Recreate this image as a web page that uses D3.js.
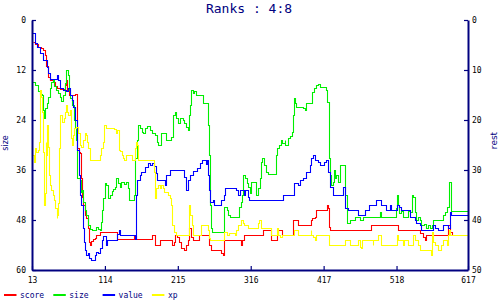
<!DOCTYPE html>
<html>
<head>
<meta charset="utf-8">
<script src="https://cdn.jsdelivr.net/npm/d3@7"></script>
<style>
  html, body { margin: 0; padding: 0; background: #fff; }
  svg { display: block; }
</style>
</head>
<body>
<svg id="chart" width="500" height="300"></svg>
<script>
const title = 'Ranks : 4:8';
const xTicks = [13, 114, 215, 316, 417, 518, 617];
const leftTicks = [0, 12, 24, 36, 48, 60];
const rightTicks = [0, 10, 20, 30, 40, 50];
const seriesNames = ['score', 'size', 'value', 'xp'];
const seriesColors = ['#ff0000', '#00ee00', '#0000ff', '#ffff00'];

// [rank index, position on the left scale]
const scoreData = [
  [14, 5.3], [17, 5.8], [21, 6.5], [25, 6.7], [28, 7.2], [31, 8.4], [32, 11], [35, 13.7], [38, 14.4],
  [42, 14.9], [45, 15.8], [48, 16.3], [52, 16.6], [56, 16.6], [59, 15.6], [60, 14.4], [61, 16.8],
  [64, 18], [70, 18], [73, 17.8], [75, 18], [76, 30.7], [78, 31.7], [79, 31.9], [81, 37.9], [82, 42.5],
  [84, 44.4], [86, 46.8], [88, 47.5], [91, 49.9], [92, 53.3], [93, 54], [95, 53], [97, 52.6], [100, 52.3],
  [102, 51.6], [106, 51.6], [107, 50.8], [129, 50.8], [131, 52.6], [153, 52.6], [154, 51.8], [157, 52.6],
  [178, 52.6], [179, 51.6], [183, 51.6], [184, 54], [190, 54], [191, 52.8], [206, 52.8], [207, 54],
  [210, 53.3], [211, 51.6], [214, 52.1], [217, 53.3], [219, 54], [220, 54.7], [223, 55.2], [226, 54],
  [229, 52.8], [231, 49.9], [233, 52.1], [236, 52.8], [243, 52.8], [244, 51.6], [257, 51.6], [258, 54],
  [261, 55.2], [273, 55.2], [275, 55.9], [278, 56.4], [279, 52.8], [301, 52.8], [303, 54], [304, 52.8],
  [307, 51.6], [332, 51.6], [333, 50.4], [343, 50.4], [344, 52.8], [352, 52.8], [353, 51.6], [354, 50.4],
  [359, 50.4], [360, 51.6], [374, 51.6], [375, 48], [381, 48], [382, 49.2], [398, 49.2], [399, 48],
  [401, 47.5], [405, 47.3], [407, 45.6], [418, 45.6], [421, 44.4], [423, 45.1], [424, 49.7], [426, 50.4],
  [481, 50.4], [482, 49.2], [519, 49.2], [520, 50.4], [548, 50.4], [550, 51.1], [555, 52.1], [557, 52.8],
  [559, 51.6], [588, 51.6], [589, 49.2], [592, 50.9], [595, 51.6], [614, 51.6], [617, 52.8]
];

const sizeData = [
  [13, 14.9], [17, 15.6], [21, 17], [24, 17.8], [27, 18], [28, 21.6], [30, 23.5], [31, 21.1], [34, 19.9],
  [35, 18.5], [38, 16.3], [39, 14.9], [42, 14.4], [43, 15.8], [46, 16.8], [49, 17.5], [52, 18.5],
  [53, 19.4], [56, 18], [59, 15.1], [60, 12], [63, 13.2], [64, 16.8], [66, 18.7], [68, 20.4], [71, 24],
  [73, 25.9], [74, 28.8], [75, 37.9], [78, 37.9], [79, 38.4], [81, 41.3], [82, 40.8], [84, 43.7],
  [86, 45.6], [88, 46.8], [91, 49.2], [93, 50.2], [96, 50.4], [102, 49.7], [104, 50.2], [107, 50.4],
  [109, 48.5], [110, 45.6], [111, 42.7], [114, 39.1], [116, 39.6], [118, 42.7], [121, 42], [124, 41],
  [125, 40.6], [128, 40.1], [129, 37.9], [132, 39.1], [135, 40.1], [136, 38.9], [140, 39.4], [143, 38.9],
  [146, 40.3], [148, 43.2], [153, 43.2], [154, 42], [156, 33.1], [158, 28.8], [160, 25.2], [163, 25.9],
  [166, 26.9], [167, 27.1], [170, 25.9], [173, 25.4], [176, 26.4], [179, 27.1], [184, 27.6], [186, 29.3],
  [188, 30], [190, 30], [192, 27.1], [197, 27.1], [198, 28.8], [204, 28.8], [206, 28.1], [208, 22.8],
  [211, 22.1], [212, 23.5], [215, 24.7], [218, 23.5], [222, 24], [224, 24.7], [226, 25.7], [229, 26.4],
  [230, 22.8], [232, 20.4], [233, 16.8], [236, 17.5], [237, 17], [240, 18], [247, 18], [250, 19.9],
  [255, 19.9], [257, 25.2], [258, 32.4], [259, 41.3], [260, 44.4], [261, 49.9], [262, 50.9], [278, 50.9],
  [279, 44.9], [283, 45.6], [285, 46.8], [287, 47.3], [298, 47.3], [300, 44.9], [302, 43.7], [304, 42],
  [305, 37.2], [308, 37.9], [311, 39.1], [312, 40.1], [315, 41.5], [316, 38.9], [322, 38.9], [323, 42],
  [326, 40.3], [329, 37.9], [330, 34.1], [332, 33.1], [335, 34.8], [337, 36.5], [340, 37], [350, 37],
  [351, 32.4], [353, 30.7], [355, 30], [358, 28.8], [360, 29.5], [363, 28.8], [364, 30], [367, 28.3],
  [370, 27.8], [373, 26.9], [375, 22.8], [376, 18.7], [378, 19.9], [379, 20.9], [388, 21.1], [391, 21.6],
  [393, 19.9], [399, 19.9], [401, 17.3], [404, 16.3], [406, 15.6], [409, 15.4], [412, 16.1], [418, 16.1],
  [420, 16.8], [421, 19.7], [424, 27.1], [425, 33.1], [426, 37.2], [427, 39.6], [430, 38.9], [431, 36],
  [433, 37.9], [434, 37.2], [437, 38.9], [439, 34.8], [444, 34.8], [446, 37.9], [447, 42], [449, 46.8],
  [450, 48.7], [453, 48], [460, 48], [461, 47.3], [467, 47.3], [468, 48], [471, 47.3], [493, 47.3],
  [495, 46.1], [497, 47.3], [515, 47.3], [517, 45.1], [519, 42], [520, 44.4], [522, 46.3], [524, 45.9],
  [527, 47.3], [532, 47.3], [534, 45.8], [537, 46.1], [539, 42], [541, 42.5], [543, 46.1], [545, 48],
  [548, 47.3], [550, 48], [552, 49.2], [556, 49], [559, 49.9], [561, 49.2], [564, 49.9], [567, 49.2],
  [568, 48], [580, 48], [582, 46.8], [585, 46.1], [588, 44.9], [590, 42], [591, 38.9], [593, 42],
  [594, 45.8], [617, 45.8]
];

const valueData = [
  [13, 3.1], [17, 5.5], [20, 6.5], [24, 7.9], [28, 9.6], [34, 11.3], [35, 12.7], [38, 14.2], [45, 14.2],
  [48, 13.2], [49, 14.4], [52, 16.3], [56, 16.8], [60, 17], [63, 16.3], [66, 18], [68, 19.2], [70, 20.9],
  [73, 24], [75, 27.6], [76, 31.2], [78, 37.2], [79, 42], [81, 44.4], [84, 49.9], [85, 53.3], [86, 55.2],
  [88, 56.4], [91, 56], [92, 57.1], [95, 57.6], [99, 57.6], [100, 56.4], [102, 55.7], [104, 55.9],
  [107, 54.7], [110, 52.8], [111, 51.8], [114, 51.8], [116, 54], [117, 52.8], [129, 52.8], [131, 51.4],
  [133, 50.4], [135, 51.6], [154, 51.6], [156, 52.6], [157, 42], [158, 38.4], [163, 37.2], [164, 36.5],
  [170, 35.3], [174, 34.3], [176, 34.8], [179, 34.3], [182, 35], [185, 36.7], [186, 38.4], [194, 38.4],
  [197, 39.6], [198, 37.2], [204, 36], [222, 36], [224, 37.7], [226, 40.8], [229, 38.4], [232, 37.2],
  [236, 36.2], [242, 35.5], [246, 34.3], [249, 33.6], [253, 33.6], [254, 34.6], [255, 33.6], [257, 37.2],
  [258, 40.8], [260, 43.7], [264, 43.2], [265, 44.4], [273, 44.4], [275, 43.2], [279, 42], [280, 40.3],
  [296, 40.8], [298, 42], [301, 40.8], [307, 42], [308, 40.8], [312, 42.5], [314, 43.2], [358, 43.2],
  [361, 42], [375, 42], [376, 39.1], [381, 39.6], [384, 38.4], [388, 37.9], [393, 36.5], [398, 34.8],
  [400, 33.1], [402, 32.4], [405, 33.6], [409, 34.1], [412, 34.8], [417, 34.1], [420, 33.6], [423, 36.5],
  [426, 40.1], [430, 42], [441, 42], [444, 40.1], [446, 40.8], [447, 45.1], [451, 45.6], [462, 45.6],
  [465, 46.8], [472, 46.8], [474, 45.6], [479, 45.6], [480, 44.4], [487, 44.4], [489, 43.2], [495, 43.2],
  [496, 44.4], [502, 44.4], [503, 45.6], [508, 45.6], [509, 44.4], [510, 45.6], [517, 45.6], [518, 44.4],
  [521, 44.9], [524, 45.6], [534, 45.6], [537, 47.3], [543, 48], [545, 48.7], [550, 49.2], [552, 50.4],
  [566, 50.4], [568, 49.2], [571, 49.9], [575, 50.4], [581, 50.4], [582, 49.2], [588, 49.2], [589, 49.9],
  [592, 46.1], [593, 46.8], [617, 46.8]
];

const xpData = [
  [13, 30], [13.5, 32.4], [16, 34.1], [17, 30.7], [19, 31.7], [21, 31.2], [23, 29.3], [24, 16.8],
  [25, 18.5], [27, 22.1], [28, 31.7], [29, 38.9], [30, 44.4], [31, 41.5], [32, 29.3], [33, 32.4],
  [34, 25.2], [35, 30.5], [36, 37.2], [38, 39.6], [39, 40.8], [42, 42], [44, 43.2], [45, 45.1],
  [47, 47.5], [48, 46.8], [49, 44], [50, 40.3], [51, 30.7], [52, 22.8], [55, 24.5], [57, 23.5],
  [59, 22.1], [60, 20.4], [61, 22.1], [63, 22.8], [65, 21.6], [67, 23.5], [67.5, 28.3], [69, 30],
  [70, 27.6], [71, 25.9], [74, 25.7], [77, 27.1], [79, 30], [81, 30.5], [84, 28.8], [86, 27.1],
  [88, 27.6], [89, 29.3], [91, 30.7], [93, 33.6], [104, 33.6], [107, 32.4], [108, 30.7], [111, 29.3],
  [113, 25.2], [115, 25.9], [127, 26.2], [130, 27.1], [131, 26.4], [133, 31.2], [135, 31.4], [137, 32.4],
  [139, 33.1], [141, 33.6], [143, 32.4], [148, 32.4], [151, 33.6], [154, 33.6], [155, 30.7], [157, 29.3],
  [158, 30], [160, 33.6], [181, 33.6], [182, 36.5], [184, 42.7], [185, 40.3], [188, 39.6], [190, 40.3],
  [192, 39.6], [194, 40.3], [196, 41.3], [201, 42], [204, 42.7], [206, 44.4], [207, 49.2], [210, 50.9],
  [213, 51.6], [229, 51.6], [231, 44.4], [232, 46.8], [234, 49.2], [236, 51.6], [245, 51.6], [247, 49.2],
  [254, 49.2], [257, 50.4], [258, 52.3], [259, 52.8], [278, 52.8], [279, 50.9], [283, 51.6], [286, 51.1],
  [294, 51.6], [295, 50.4], [298, 49.2], [303, 48], [305, 48.7], [307, 49.2], [312, 49.9], [324, 49.9],
  [326, 48.7], [328, 48], [330, 49.9], [342, 49.9], [344, 51.6], [352, 51.6], [353, 49.9], [354, 51.6],
  [356, 52.1], [359, 51.6], [375, 51.6], [376, 50.4], [381, 51.6], [398, 51.6], [399, 50.4], [400, 51.6],
  [402, 52.1], [405, 52.8], [407, 51.6], [423, 51.6], [425, 54], [444, 54], [446, 52.8], [451, 52.8],
  [453, 54], [462, 54], [465, 52.8], [467, 54.5], [469, 54.7], [470, 52.8], [483, 52.8], [485, 54],
  [486, 52.8], [492, 51.6], [494, 51.6], [496, 54], [515, 54], [518, 51.6], [520, 52.8], [524, 52.8],
  [527, 54], [529, 52.8], [534, 54], [538, 54], [541, 51.6], [543, 52.8], [548, 54], [550, 55.2],
  [564, 55.2], [566, 56.4], [567, 50.9], [568, 53.3], [571, 54], [575, 55.2], [580, 54], [582, 52.8],
  [588, 54], [589, 51.6], [591, 50.4], [592, 51.6], [617, 51.6]
];

const allSeries = [scoreData, sizeData, valueData, xpData];

const navy = '#000080';
const svg = d3.select('#chart');

const x = d3.scaleLinear().domain([13, 617]).range([32, 468]);
const yLeft = d3.scaleLinear().domain([0, 60]).range([20, 270]);
const yRight = d3.scaleLinear().domain([0, 50]).range([20, 270]);

// title
svg.append('text')
  .attr('x', 249)
  .attr('y', 12.7)
  .attr('text-anchor', 'middle')
  .attr('font-family', '"DejaVu Sans Mono", monospace')
  .attr('font-size', 13)
  .attr('fill', navy)
  .text(title);

// series, snapped to pixel centres so the steps stay sharp
const line = d3.line()
  .x((d) => Math.round(x(d[0])) + 0.5)
  .y((d) => Math.round(yLeft(d[1])) + 0.5)
  .curve(d3.curveStepAfter);

svg.append('g')
  .selectAll('path')
  .data(allSeries)
  .join('path')
  .attr('d', line)
  .attr('fill', 'none')
  .attr('stroke', (_d, i) => seriesColors[i])
  .attr('stroke-width', 1.1)
  .attr('stroke-linejoin', 'miter');

// axes, ticks pointing inward
const styleAxis = (g) => {
  g.select('.domain').attr('stroke', navy).attr('stroke-width', 2);
  g.selectAll('.tick line').attr('stroke', navy).attr('stroke-width', 1.2);
};

svg.append('g')
  .attr('transform', 'translate(32,0)')
  .call(d3.axisLeft(yLeft).tickValues(leftTicks).tickSizeInner(-4).tickSizeOuter(0).tickPadding(6))
  .call(styleAxis);

svg.append('g')
  .attr('transform', 'translate(468,0)')
  .call(d3.axisRight(yRight).tickValues(rightTicks).tickSizeInner(-4).tickSizeOuter(0).tickPadding(4))
  .call(styleAxis);

svg.append('g')
  .attr('transform', 'translate(0,270)')
  .call(d3.axisBottom(x).tickValues(xTicks).tickFormat(d3.format('d')).tickSizeInner(-4).tickSizeOuter(0).tickPadding(7))
  .call(styleAxis);

svg.selectAll('.tick text').attr('font-family', '"DejaVu Sans Mono", monospace').attr('font-size', 8).attr('fill', '#000');

// axis titles
svg.append('text')
  .attr('transform', 'translate(8.3,143) rotate(-90)')
  .attr('text-anchor', 'middle')
  .attr('font-family', '"DejaVu Sans", sans-serif')
  .attr('font-size', 8)
  .attr('fill', navy)
  .text('size');

svg.append('text')
  .attr('transform', 'translate(496.7,140.5) rotate(-90)')
  .attr('text-anchor', 'middle')
  .attr('font-family', '"DejaVu Sans", sans-serif')
  .attr('font-size', 9)
  .attr('fill', navy)
  .text('rest');

// legend
const legend = svg.append('g')
  .selectAll('g')
  .data(seriesNames)
  .join('g')
  .attr('transform', (_d, i) => `translate(${4 + i * 49.3},295)`);

legend.append('line')
  .attr('x1', 0)
  .attr('x2', 12.5)
  .attr('stroke', (_d, i) => seriesColors[i])
  .attr('stroke-width', 2);

legend.append('text')
  .attr('x', 16)
  .attr('y', 2.5)
  .attr('font-family', '"DejaVu Sans Mono", monospace')
  .attr('font-size', 8)
  .attr('fill', navy)
  .text((d) => d);
</script>
</body>
</html>
